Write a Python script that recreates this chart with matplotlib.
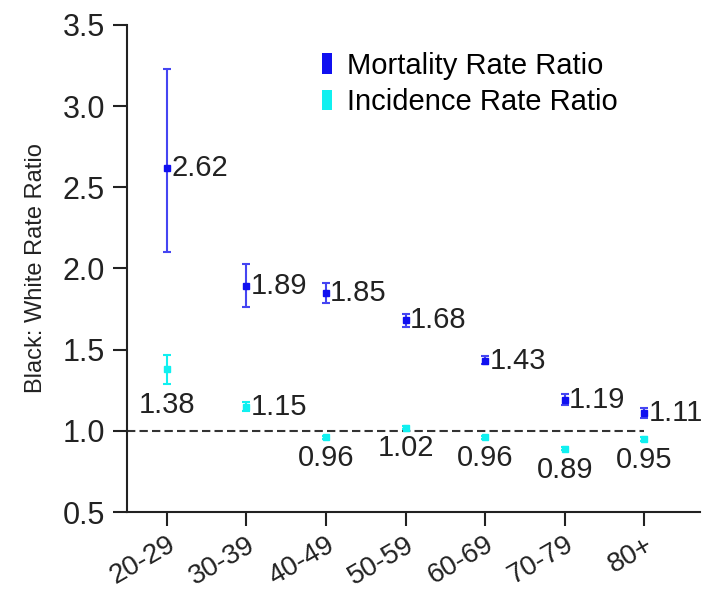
import matplotlib.pyplot as plt
from matplotlib.patches import Patch

plt.rcParams['font.family'] = ['Liberation Sans', 'DejaVu Sans']

ages = ["20-29", "30-39", "40-49", "50-59", "60-69", "70-79", "80+"]

mort = [2.62, 1.89, 1.85, 1.68, 1.43, 1.19, 1.11]
mort_lo = [2.10, 1.76, 1.79, 1.64, 1.41, 1.16, 1.08]
mort_hi = [3.23, 2.03, 1.91, 1.72, 1.46, 1.23, 1.14]

inc = [1.38, 1.15, 0.96, 1.02, 0.96, 0.89, 0.95]
inc_lo = [1.29, 1.12, 0.95, 1.01, 0.95, 0.88, 0.94]
inc_hi = [1.47, 1.18, 0.97, 1.03, 0.97, 0.90, 0.96]

blue = "#1010f0"
cyan = "#10f0f0"

fig = plt.figure(figsize=(7.1, 5.9), dpi=100)
ax = fig.add_axes([0.179, 0.132, 0.807, 0.826])

x = list(range(len(ages)))

ax.hlines(1.0, -0.5, len(ages) - 1, colors="#333333", linestyles=(0, (4, 2)),
          linewidth=1.5, zorder=1)

ax.errorbar(x, mort,
            yerr=[[m - l for m, l in zip(mort, mort_lo)],
                  [h - m for m, h in zip(mort, mort_hi)]],
            fmt="s", color=blue, ecolor="#4545f2", markersize=5,
            capsize=3, elinewidth=1.5, capthick=1.5, zorder=3)
ax.errorbar(x, inc,
            yerr=[[m - l for m, l in zip(inc, inc_lo)],
                  [h - m for m, h in zip(inc, inc_hi)]],
            fmt="s", color=cyan, ecolor=cyan, markersize=5,
            capsize=3, elinewidth=1.5, capthick=1.5, zorder=3)

for xi, v in zip(x, mort):
    ax.annotate(f"{v:.2f}", (xi, v), xytext=(3, 0), textcoords="offset points",
                ha="left", va="center", fontsize=21, color="#222222")

for i, (xi, v) in enumerate(zip(x, inc)):
    if i == 1:
        ax.annotate(f"{v:.2f}", (xi, v), xytext=(3, 0), textcoords="offset points",
                    ha="left", va="center", fontsize=21, color="#222222")
    elif i == 0:
        ax.annotate(f"{v:.2f}", (xi, v), xytext=(0, -26), textcoords="offset points",
                    ha="center", va="center", fontsize=21, color="#222222")
    else:
        ax.annotate(f"{v:.2f}", (xi, v), xytext=(0, -15), textcoords="offset points",
                    ha="center", va="center", fontsize=21, color="#222222")

ax.set_xlim(-0.5, 6.7)
ax.set_ylim(0.5, 3.5)
yt = [0.5, 1.0, 1.5, 2.0, 2.5, 3.0, 3.5]
ax.set_yticks(yt)
ax.set_yticklabels([f"{t:.1f}" for t in yt])
ax.set_xticks(x)
ax.set_xticklabels(ages, rotation=30, ha="right", rotation_mode="anchor")
ax.tick_params(axis="both", length=10, width=1.5, colors="#222222")
ax.tick_params(axis="y", labelsize=22, pad=6)
ax.tick_params(axis="x", labelsize=20, pad=4)
ax.set_ylabel("Black: White Rate Ratio", fontsize=17, color="#222222", labelpad=11)

for s in ["top", "right"]:
    ax.spines[s].set_visible(False)
for s in ["left", "bottom"]:
    ax.spines[s].set_linewidth(1.5)
    ax.spines[s].set_color("#222222")

handles = [Patch(facecolor=blue, edgecolor="none", label="Mortality Rate Ratio"),
           Patch(facecolor=cyan, edgecolor="none", label="Incidence Rate Ratio")]
ax.legend(handles=handles, loc="upper left", bbox_to_anchor=(0.34, 0.945),
          frameon=False, fontsize=21, handlelength=0.35, handleheight=0.7,
          handletextpad=0.5, labelspacing=0.3, borderpad=0, borderaxespad=0)

fig.savefig("out.png", dpi=100)
